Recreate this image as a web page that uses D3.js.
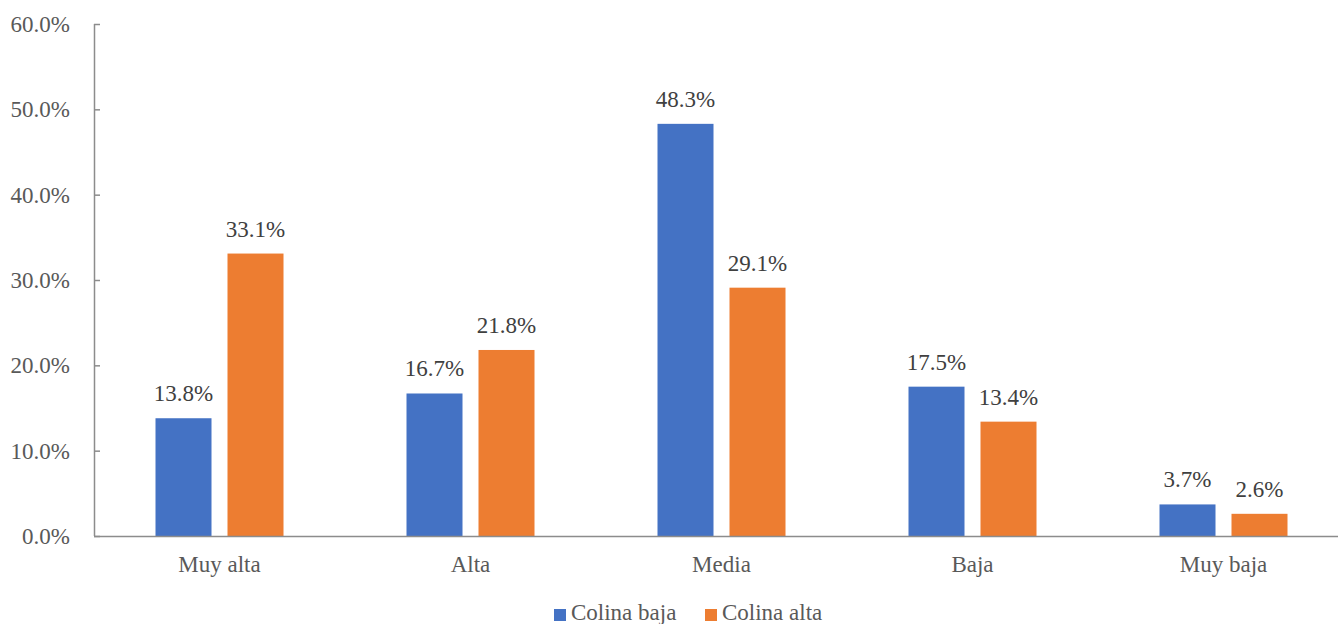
<!DOCTYPE html>
<html>
<head>
<meta charset="utf-8">
<script src="https://cdn.jsdelivr.net/npm/d3@7"></script>
<style>
  html, body { margin: 0; padding: 0; background: #fff; overflow: hidden; }
  svg { display: block; }
  svg text { font-family: "Liberation Serif", "Times New Roman", "DejaVu Serif", serif; fill: #595959; }
  svg text.lbl { fill: #404040; }
</style>
</head>
<body>
<svg id="chart" width="1338" height="624"></svg>
<script>
// Categories and series values (percent)
const categories = ["Muy alta", "Alta", "Media", "Baja", "Muy baja"];
const seriesNames = ["Colina baja", "Colina alta"];
const colinaBaja = [13.8, 16.7, 48.3, 17.5, 3.7];
const colinaAlta = [33.1, 21.8, 29.1, 13.4, 2.6];
const yTicks = [0, 10, 20, 30, 40, 50, 60];
const colors = ["#4472C4", "#ED7D31"];

const svg = d3.select("#chart");
const plotLeft = 94, plotRight = 1349, plotTop = 24, plotBottom = 536;
const fontSize = "23px";

const x = d3.scaleBand().domain(categories).range([plotLeft, plotRight]).padding(0);
const y = d3.scaleLinear().domain([0, 60]).range([plotBottom, plotTop]);

// Two bars per category, 56px wide with a 16px gap
const barW = 56, gap = 16;
const sub = d3.scaleBand().domain(seriesNames)
  .range([-(barW + gap / 2), barW + gap / 2])
  .paddingInner(gap / (barW + gap));

// Y axis: line with inward ticks
const yAxis = svg.append("g").attr("transform", `translate(${plotLeft},0)`)
  .call(d3.axisRight(y).tickValues(yTicks).tickSize(6).tickFormat(""));
yAxis.select(".domain").attr("stroke", "#8c8c8c").attr("stroke-width", 1.5).attr("d", `M0.5,${plotTop}H0.5V${plotBottom}`);
yAxis.selectAll(".tick line").attr("stroke", "#8c8c8c").attr("stroke-width", 1.5);

// Y tick labels
svg.append("g").selectAll("text").data(yTicks).join("text")
  .attr("x", 70).attr("y", d => y(d) + 8)
  .attr("text-anchor", "end")
  .style("font-size", fontSize)
  .text(d => d.toFixed(1) + "%");

// Bars
const data = categories.map((c, i) => ({ cat: c, vals: [colinaBaja[i], colinaAlta[i]] }));
const groups = svg.append("g").selectAll("g").data(data).join("g")
  .attr("transform", d => `translate(${x(d.cat) + x.bandwidth() / 2},0)`);

groups.selectAll("rect").data(d => d.vals.map((v, j) => ({ v, s: seriesNames[j], j }))).join("rect")
  .attr("x", d => sub(d.s))
  .attr("width", sub.bandwidth())
  .attr("y", d => y(d.v))
  .attr("height", d => y(0) - y(d.v))
  .attr("fill", d => colors[d.j]);

// Value labels above bars
groups.selectAll("text.lbl").data(d => d.vals.map((v, j) => ({ v, s: seriesNames[j], j }))).join("text")
  .attr("class", "lbl")
  .attr("x", d => sub(d.s) + sub.bandwidth() / 2)
  .attr("y", d => y(d.v) - 17)
  .attr("text-anchor", "middle")
  .style("font-size", fontSize)
  .text(d => d.v.toFixed(1) + "%");

// X axis baseline
svg.append("line")
  .attr("x1", plotLeft).attr("x2", 1338)
  .attr("y1", y(0) + 0.5).attr("y2", y(0) + 0.5)
  .attr("stroke", "#8c8c8c").attr("stroke-width", 1.5);

// Category labels
svg.append("g").selectAll("text").data(categories).join("text")
  .attr("x", d => x(d) + x.bandwidth() / 2)
  .attr("y", 572)
  .attr("text-anchor", "middle")
  .style("font-size", fontSize)
  .text(d => d);

// Legend
const legendX = [554, 705];
const legend = svg.append("g").selectAll("g").data(seriesNames).join("g")
  .attr("transform", (d, i) => `translate(${legendX[i]},0)`);
legend.append("rect").attr("x", 0).attr("y", 609).attr("width", 12).attr("height", 12)
  .attr("fill", (d, i) => colors[i]);
legend.append("text").attr("x", 17).attr("y", 620)
  .style("font-size", fontSize)
  .text(d => d);
</script>
</body>
</html>
